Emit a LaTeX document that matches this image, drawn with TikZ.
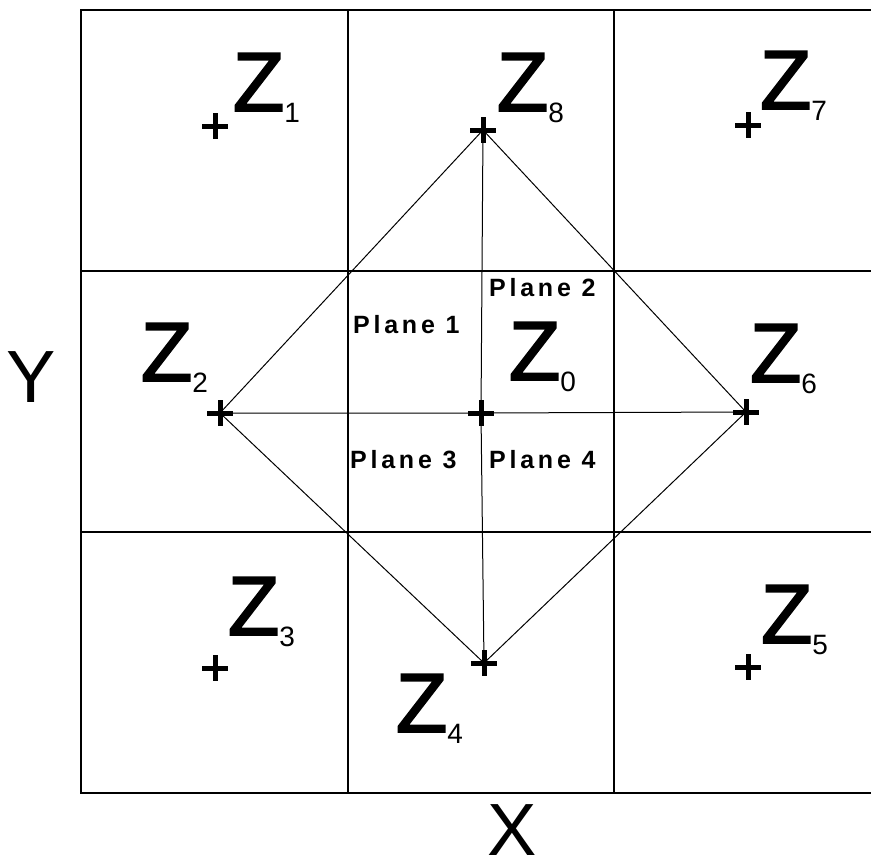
\documentclass[tikz,border=0pt]{standalone}
\usepackage{fontspec}
\setmainfont{Liberation Sans}
\newfontfamily\planefont[LetterSpace=15]{Liberation Sans Bold}
\newfontfamily\zfam[FakeBold=2.2]{Liberation Sans}
\newcommand\zfont{\zfam\fontsize{84}{84}\selectfont}
\newcommand\subfont{\fontsize{28}{28}\selectfont}
\newcommand\zlab[1]{{\zfont Z}\raisebox{-11pt}{\subfont #1}}
\begin{document}
\begin{tikzpicture}[x=1pt,y=-1pt,
  gridline/.style={line width=1.5pt,black},
  diagline/.style={line width=1pt,black},
  zlabel/.style={anchor=base west,inner sep=0pt,outer sep=0pt},
  planelabel/.style={anchor=base west,inner sep=0pt,font=\planefont\fontsize{25}{25}\selectfont},
  axislabel/.style={anchor=base west,inner sep=0pt,font=\fontsize{74}{74}\selectfont},
  crossmark/.pic={\draw[line width=5pt] (-13,0)--(13,0) (0,-13)--(0,13);}]
\useasboundingbox (0,0) rectangle (871,865);
\fill[white] (0,0) rectangle (871,865);
% grid
\draw[gridline] (871,10) -- (81,10) -- (81,793) -- (871,793);
\draw[gridline] (81,271) -- (871,271);
\draw[gridline] (81,532) -- (871,532);
\draw[gridline] (348,10) -- (348,793);
\draw[gridline] (614,10) -- (614,793);
% points
\coordinate (c0) at (481,413);
\coordinate (c1) at (215,126);
\coordinate (c2) at (220,413);
\coordinate (c3) at (215,668);
\coordinate (c4) at (484,663);
\coordinate (c5) at (748,667);
\coordinate (c6) at (746,412);
\coordinate (c7) at (748,125);
\coordinate (c8) at (483,130);
% diamond
\draw[diagline] (c8) -- (c2) -- (c4) -- (c6) -- (c8);
\draw[diagline] (c2) -- (c0) -- (c6);
\draw[diagline] (c8) -- (c0) -- (c4);
% crosses
\foreach \c in {c0,c1,c2,c3,c4,c5,c6,c7,c8} \path (\c) pic {crossmark};
% labels
\node[zlabel] (z1) at (233,111) {\zlab{1}};
\node[zlabel] (z8) at (497,111) {\zlab{8}};
\node[zlabel] (z7) at (760,109) {\zlab{7}};
\node[zlabel] (z2) at (141,381) {\zlab{2}};
\node[zlabel] (z0) at (509,380) {\zlab{0}};
\node[zlabel] (z6) at (750,382) {\zlab{6}};
\node[zlabel] (z3) at (228,635) {\zlab{3}};
\node[zlabel] (z4) at (396,732) {\zlab{4}};
\node[zlabel] (z5) at (761,643) {\zlab{5}};
\node[planelabel] (pl1) at (353,333) {Plane 1};
\node[planelabel] (pl2) at (489,296) {Plane 2};
\node[planelabel] (pl3) at (350,468) {Plane 3};
\node[planelabel] (pl4) at (489,468) {Plane 4};
\node[axislabel] (ylab) at (6,402) {Y};
\node[axislabel] (xlab) at (487,855) {X};
\end{tikzpicture}
\end{document}
